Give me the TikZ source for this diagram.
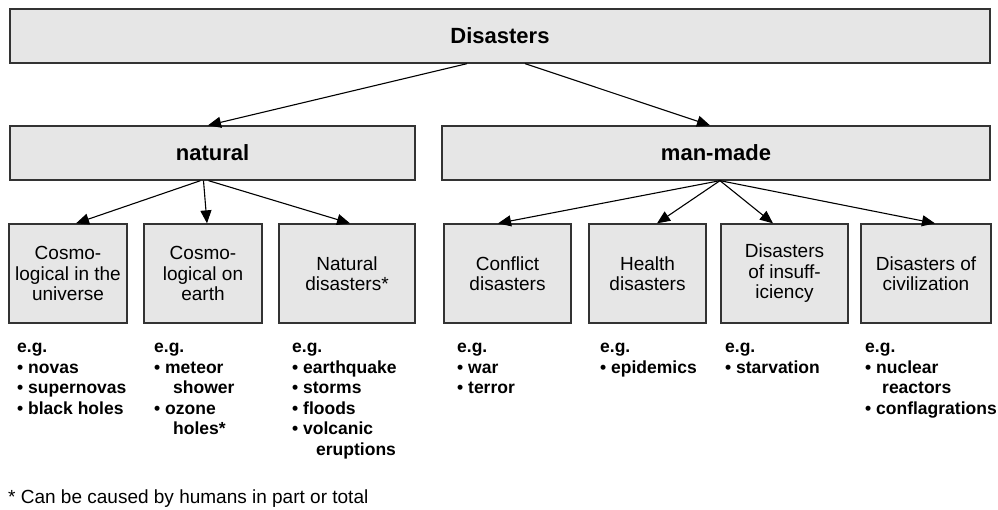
\documentclass[tikz,border=0pt]{standalone}
\usepackage{fontspec}
\setmainfont{Liberation Sans}
\usetikzlibrary{arrows.meta}
\definecolor{boxfill}{HTML}{E6E6E6}
\definecolor{boxline}{HTML}{333333}
\tikzset{
  headbox/.style={draw=boxline, fill=boxfill, line width=1.3pt, inner sep=0pt,
    font=\fontsize{22}{24}\selectfont\bfseries},
  catbox/.style={draw=boxline, fill=boxfill, line width=1.3pt, inner sep=0pt,
    align=center, minimum height=99pt, font=\fontsize{19}{20.5}\selectfont},
  arr/.style={draw=black, line width=1.1pt, -{Triangle[length=13pt,width=11pt]}},
  eglist/.style={anchor=north west, inner sep=0pt, align=left,
    font=\fontsize{17.5}{20.5}\selectfont\bfseries},
  foot/.style={anchor=base west, inner sep=0pt, font=\fontsize{19}{21}\selectfont}
}
\begin{document}
\begin{tikzpicture}[x=1pt,y=-1pt]
\useasboundingbox (0,0) rectangle (998,509);
% top level
\node[headbox, minimum width=980pt, minimum height=54pt] (top) at (500,36) {Disasters};
\node[headbox, minimum width=405pt, minimum height=54pt] (nat) at (212.5,153) {natural};
\node[headbox, minimum width=548pt, minimum height=54pt] (man) at (716,153) {man-made};
% categories
\node[catbox, minimum width=118pt] (c1) at (68,273.5) {Cosmo-\\logical in the\\universe};
\node[catbox, minimum width=118pt] (c2) at (203,273.5) {Cosmo-\\logical on\\earth};
\node[catbox, minimum width=136pt] (c3) at (347,273.5) {Natural\\disasters*};
\node[catbox, minimum width=127pt] (c4) at (507.5,273.5) {Conflict\\disasters};
\node[catbox, minimum width=117pt] (c5) at (647.5,273.5) {Health\\disasters};
\node[catbox, minimum width=127pt] (c6) at (784.5,273.5) {Disasters\\of insuff-\\iciency};
\node[catbox, minimum width=130pt] (c7) at (926,273.5) {Disasters of\\civilization};
% arrows
\draw[arr] ([xshift=-33pt]top.south) -- ([xshift=-4.5pt]nat.north);
\draw[arr] ([xshift=25pt]top.south) -- ([xshift=-6pt]man.north);
\draw[arr] ([xshift=-12pt]nat.south) -- ([xshift=8pt]c1.north);
\draw[arr] ([xshift=-9pt]nat.south) -- ([xshift=4pt]c2.north);
\draw[arr] ([xshift=-4pt]nat.south) -- ([xshift=3pt]c3.north);
\draw[arr] ([xshift=4pt]man.south) -- ([xshift=-9.5pt]c4.north);
\draw[arr] ([xshift=4pt]man.south) -- ([xshift=9.5pt]c5.north);
\draw[arr] ([xshift=4pt]man.south) -- ([xshift=-11.5pt]c6.north);
\draw[arr] ([xshift=4pt]man.south) -- ([xshift=9pt]c7.north);
% examples
\node[eglist] (e1) at (17,338) {\strut e.g.\\• novas\\• supernovas\\• black holes};
\node[eglist] (e2) at (154,338) {\strut e.g.\\• meteor\\\hspace*{19pt}shower\\• ozone\\\hspace*{19pt}holes*};
\node[eglist] (e3) at (292,338) {\strut e.g.\\• earthquake\\• storms\\• floods\\• volcanic\\\hspace*{24pt}eruptions};
\node[eglist] (e4) at (457,338) {\strut e.g.\\• war\\• terror};
\node[eglist] (e5) at (600,338) {\strut e.g.\\• epidemics};
\node[eglist] (e6) at (725,338) {\strut e.g.\\• starvation};
\node[eglist] (e7) at (865,338) {\strut e.g.\\• nuclear\\\hspace*{17pt}reactors\\• conflagrations};
% footnote
\node[foot] (fn) at (8,503) {* Can be caused by humans in part or total};
\end{tikzpicture}
\end{document}
